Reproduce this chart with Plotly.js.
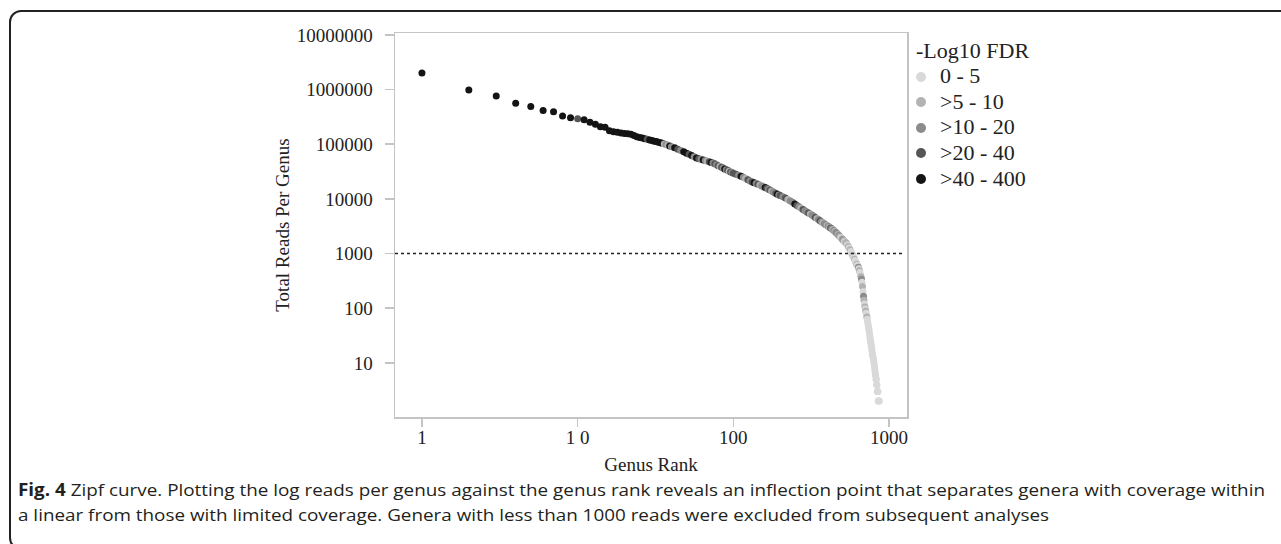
<!DOCTYPE html>
<html>
<head>
<meta charset="utf-8">
<script src="https://cdn.plot.ly/plotly-3.0.1.min.js"></script>
<style>
html,body{margin:0;padding:0;width:1281px;height:544px;overflow:hidden;background:#fff;}
#frame{position:absolute;left:9px;top:10px;width:1320px;height:540px;border:2px solid #222;border-radius:12px;box-sizing:border-box;}
#chart{position:absolute;left:0;top:0;width:1281px;height:544px;}
.cap{position:absolute;left:18px;font-family:'Open Sans',sans-serif;font-size:17px;color:#231f20;white-space:nowrap;transform-origin:0 50%;line-height:22px;}
.cap b{font-weight:700;}
</style>
</head>
<body>
<div id="frame"></div>
<div id="chart"></div>
<div id="cap1" class="cap" style="top:479px"><b>Fig. 4</b> Zipf curve. Plotting the log reads per genus against the genus rank reveals an inflection point that separates genera with coverage within</div>
<div id="cap2" class="cap" style="top:504px">a linear from those with limited coverage. Genera with less than 1000 reads were excluded from subsequent analyses</div>
<script>
// ---------- data ----------
const genusRank = [
  1,2,3,4,5,6,7,8,9,10,11,12,13,14,15,16,17,18,19,20,
  21,22,23,24,25,26,27,28,29,30,31,32,33,34,35,36,37,38,39,40,
  42,44,46,48,50,52,54,56,58,60,62,64,66,68,70,72,74,76,78,80,
  82,84,86,88,90,92,94,96,98,100,
  104,108,112,116,120,124,128,132,136,140,144,148,152,156,160,164,168,172,176,180,
  184,188,192,196,200,
  208,216,224,232,240,248,256,264,272,280,288,296,304,312,320,328,336,344,352,360,
  368,376,384,392,400,
  407,414,421,428,435,442,449,456,463,470,477,484,491,498,505,512,519,526,533,540,
  547,554,561,568,575,
  580,585,590,595,600,605,610,615,620,625,630,635,640,645,650,655,660,665,670,675,
  680,685,690,695,700,
  704,708,712,716,720,724,728,732,736,740,744,748,752,756,760,764,768,772,776,780,
  784,788,792,796,800,804,808,812,816,820,824,828,832,836,840,844,848,852,856,860,
  863
];
const totalReads = [
  2000000,980000,760000,561000,490000,414000,392000,329000,305000,292000,
  280000,252000,232000,209000,205000,177000,170000,165000,161000,158000,
  155000,152000,145000,137000,133000,130000,126000,123000,120000,117000,
  114000,112000,109000,107000,104000,101000,98500,96000,93000,89500,
  86000,81000,77000,72500,68700,65500,62000,59000,56000,54500,
  53000,51500,50300,49000,47800,46500,45400,43800,42000,40500,
  39300,38000,36600,35400,34300,33300,32200,31200,30300,29500,
  28300,27000,25900,24800,23600,22300,21200,20400,19700,19100,
  18500,17900,17200,16600,16100,15600,15000,14500,14000,13500,
  13000,12600,12200,11800,11500,
  11000,10400,9800,9200,8700,8100,7600,7150,6750,6400,
  6050,5750,5500,5300,5050,4800,4580,4380,4200,4000,
  3820,3650,3500,3370,3250,
  3150,3040,2940,2840,2740,2640,2540,2430,2330,2230,
  2130,2040,1950,1870,1790,1720,1650,1590,1540,1440,
  1350,1260,1180,1090,1010,
  960,910,870,830,790,750,710,670,640,610,
  590,560,530,490,450,410,375,340,300,250,
  200,165,140,120,105,
  97,89,81,75,69,63,57,52,47,43,
  39,35,31,28,25,23,21,19,17,15,
  14,13,12,11,10,9,8,7,6,6,
  5,5,4,4,3,3,3,2,2,2,
  2
];
// index into fdrLabels for each genus
const fdrClass = [
  4,4,4,4,4,4,4,4,4,3,4,4,4,4,4,4,4,4,4,4,
  4,4,4,4,4,4,4,3,4,4,4,4,4,4,4,1,2,1,4,2,
  4,3,2,4,4,3,4,2,4,3,2,4,2,1,3,4,2,3,2,3,
  1,3,2,4,2,3,1,3,2,3,
  3,2,4,2,1,3,2,3,4,2,3,1,2,2,4,3,2,3,1,2,
  2,3,4,2,3,
  2,3,1,2,2,4,3,2,1,3,2,2,3,1,2,2,3,1,2,3,
  2,1,2,2,1,
  2,1,3,2,1,2,1,2,2,1,2,1,0,1,2,1,0,1,1,0,
  1,0,1,0,0,
  0,1,0,0,1,0,0,0,1,0,0,2,0,1,0,0,1,2,0,1,
  0,2,1,0,1,
  0,1,0,0,1,0,0,0,0,0,0,0,0,0,0,0,0,0,0,0,
  0,0,0,0,0,0,0,0,0,0,0,0,0,0,0,0,0,0,0,0,
  0
];
const fdrLabels = ['0 - 5', '>5 - 10', '>10 - 20', '>20 - 40', '>40 - 400'];
const fdrColors = ['#d9d9d9', '#b3b3b3', '#8c8c8c', '#565656', '#141414'];
const legendTitle = '-Log10 FDR';
const readsCutoff = 1000;
const xTickVals = [1, 10, 100, 1000];
const xTickText = ['1', '1 0', '100', '1000'];
const yTickVals = [10, 100, 1000, 10000, 100000, 1000000, 10000000];
const yTickText = ['10', '100', '1000', '10000', '100000', '1000000', '10000000'];

// ---------- geometry ----------
const W = 1281, H = 544;
const PL = 395, PR = 907, PT = 33, PB = 417;
const px2x = p => (p - PL) / (PR - PL);
const px2y = p => (PB - p) / (PB - PT);
const serif = '"Liberation Serif", "Times New Roman", Times, serif';
const axisGrey = '#c4c4c4';

// one trace, drawn in rank order, coloured by FDR class
const traces = [{
  type: 'scatter', mode: 'markers', name: 'Genera',
  x: genusRank, y: totalReads,
  text: fdrClass.map(c => fdrLabels[c]),
  marker: {color: fdrClass.map(c => fdrColors[c]), size: 7, line: {width: 0}},
  showlegend: false, hoverinfo: 'x+y+text'
}];

const legendY = [76, 101, 127, 152, 178];
const annotations = [{
  xref: 'paper', yref: 'paper', x: px2x(914), y: px2y(50), xanchor: 'left', yanchor: 'middle',
  text: legendTitle, showarrow: false, font: {family: serif, size: 22, color: '#222'}
}];
const shapes = [{
  type: 'line', xref: 'paper', yref: 'y', x0: 0, x1: px2x(905), y0: readsCutoff, y1: readsCutoff,
  line: {color: '#222', width: 1.5, dash: 'dot'}
}];
fdrLabels.forEach((lab, c) => {
  annotations.push({
    xref: 'paper', yref: 'paper', x: px2x(938), y: px2y(legendY[c]), xanchor: 'left', yanchor: 'middle',
    text: lab, showarrow: false, font: {family: serif, size: 22, color: '#222'}
  });
  shapes.push({
    type: 'circle', xref: 'paper', yref: 'paper', xsizemode: 'pixel', ysizemode: 'pixel',
    xanchor: px2x(921), yanchor: px2y(legendY[c] + 1), x0: -5, x1: 5, y0: -5, y1: 5,
    fillcolor: fdrColors[c], line: {width: 0}
  });
});

const layout = {
  width: W, height: H,
  margin: {l: PL, r: W - PR, t: PT, b: H - PB, pad: 0},
  paper_bgcolor: 'rgba(0,0,0,0)', plot_bgcolor: 'rgba(0,0,0,0)',
  font: {family: serif, size: 19, color: '#222'},
  showlegend: false,
  xaxis: {
    type: 'log', range: [-0.173, 3.115], autorange: false,
    tickmode: 'array', tickvals: xTickVals, ticktext: xTickText,
    ticks: 'outside', ticklen: 8, tickwidth: 1.5, tickcolor: axisGrey,
    showline: true, linecolor: axisGrey, linewidth: 1.5, mirror: true,
    showgrid: false, zeroline: false,
    tickfont: {family: serif, size: 19, color: '#222'},
    ticklabelstandoff: -5,
    title: {text: 'Genus Rank', font: {family: serif, size: 19, color: '#222'}, standoff: 10}
  },
  yaxis: {
    type: 'log', range: [0.01, 7.035], autorange: false,
    tickmode: 'array', tickvals: yTickVals, ticktext: yTickText,
    ticks: 'outside', ticklen: 9, tickwidth: 1.5, tickcolor: axisGrey,
    showline: true, linecolor: axisGrey, linewidth: 1.5, mirror: true,
    showgrid: false, zeroline: false,
    tickfont: {family: serif, size: 19, color: '#222'},
    ticklabelstandoff: 8,
    title: {text: 'Total Reads Per Genus', font: {family: serif, size: 19, color: '#222'}, standoff: 2}
  },
  annotations: annotations,
  shapes: shapes
};

Plotly.newPlot('chart', traces, layout, {displayModeBar: false, staticPlot: true});

function fitCaption() {
  const c1 = document.getElementById('cap1');
  const c2 = document.getElementById('cap2');
  const w = c1.getBoundingClientRect().width;
  const s = 1247 / w;
  c1.style.transform = 'scaleX(' + s + ')';
  c2.style.transform = 'scaleX(' + s + ')';
}
if (document.fonts && document.fonts.ready) { document.fonts.ready.then(fitCaption); } else { fitCaption(); }
</script>
</body>
</html>
